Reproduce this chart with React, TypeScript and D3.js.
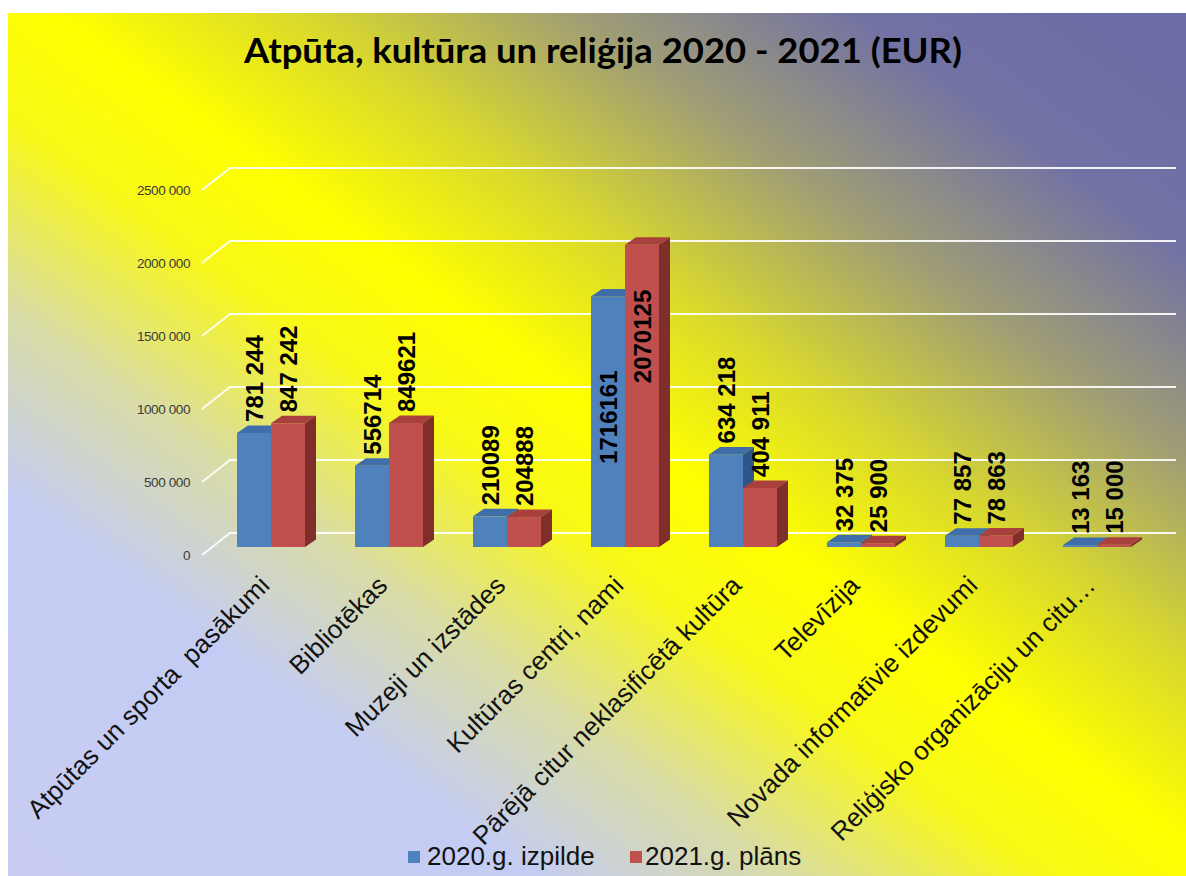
import React from "react";
import * as d3 from "d3";

const categories = [
  "Atpūtas un sporta  pasākumi",
  "Bibliotēkas",
  "Muzeji un izstādes",
  "Kultūras centri, nami",
  "Pārējā citur neklasificētā kultūra",
  "Televīzija",
  "Novada informatīvie izdevumi",
  "Reliģisko organizāciju un citu…",
];
const values2020 = [781244, 556714, 210089, 1716161, 634218, 32375, 77857, 13163];
const values2021 = [847242, 849621, 204888, 2070125, 404911, 25900, 78863, 15000];
const labels2020 = ["781 244", "556714", "210089", "1716161", "634 218", "32 375", "77 857", "13 163"];
const labels2021 = ["847 242", "849621", "204888", "2070125", "404 911", "25 900", "78 863", "15 000"];
const yTicks = [0, 500000, 1000000, 1500000, 2000000, 2500000];
const yTickLabels = ["0", "500 000", "1000 000", "1500 000", "2000 000", "2500 000"];
const seriesNames = ["2020.g. izpilde", "2021.g. plāns"];
const title = "Atpūta, kultūra un reliģija 2020 - 2021 (EUR)";

const W = 1186;
const H = 876;

const front = ["#4f81bd", "#c0504d"];
const topC = ["#3f6ea8", "#a8413e"];
const sideC = ["#2f5688", "#7f2e2c"];

export default function App() {
  const x = d3
    .scaleBand<string>()
    .domain(categories)
    .range([212, 1156])
    .paddingInner(0.4237)
    .paddingOuter(0.2119);
  const xs = d3.scaleBand<number>().domain([0, 1]).range([0, x.bandwidth()]);
  const y = d3.scaleLinear().domain([0, 2500000]).range([547, 182]);
  const dx = 11;
  const dy = -7.5;
  const series = [values2020, values2021];
  const labels = [labels2020, labels2021];
  const insideOffset = [74, 45];
  const font = "'Liberation Sans', Arial, sans-serif";

  return (
    <svg
      width={W}
      height={H}
      style={{ position: "absolute", left: 0, top: 0 }}
      xmlns="http://www.w3.org/2000/svg"
    >
      <defs>
        <linearGradient id="bg" x1="0" y1="1" x2="1" y2="0">
          <stop offset="0" stopColor="#c8ccf2" />
          <stop offset="0.22" stopColor="#c4ccf4" />
          <stop offset="0.33" stopColor="#d9dca6" />
          <stop offset="0.44" stopColor="#f8f818" />
          <stop offset="0.52" stopColor="#ffff00" />
          <stop offset="0.62" stopColor="#dada2c" />
          <stop offset="0.74" stopColor="#a09e74" />
          <stop offset="0.86" stopColor="#7272a4" />
          <stop offset="1" stopColor="#6b6ba8" />
        </linearGradient>
      </defs>
      <rect x={0} y={0} width={W} height={H} fill="#ffffff" />
      <rect x={8} y={13} width={W - 8} height={H - 13} fill="url(#bg)" />

      <text
        x={603}
        y={63}
        textAnchor="middle"
        fontFamily="Lato, 'Open Sans', sans-serif"
        fontWeight="bold"
        fontSize={34}
        textLength={718}
        lengthAdjust="spacingAndGlyphs"
        fill="#000"
      >
        {title}
      </text>

      {/* gridlines */}
      {yTicks.map((t, i) => {
        const yf = y(t) + 8;
        const yb = y(t) - 14;
        return (
          <g key={"g" + i}>
            <polyline
              points={`202,${yf} 230,${yb} 1176,${yb}`}
              fill="none"
              stroke="#ffffff"
              strokeOpacity={0.9}
              strokeWidth={2}
            />
            <text
              x={190}
              y={yf + 1}
              textAnchor="end"
              dominantBaseline="middle"
              fontFamily={font}
              fontSize={13.5}
              letterSpacing={-0.4}
              fill="#3a3a3a"
            >
              {yTickLabels[i]}
            </text>
          </g>
        );
      })}

      {/* bars */}
      {categories.map((c, ci) => (
        <g key={"c" + ci}>
          {series.map((vals, si) => {
            const v = vals[ci];
            const x0 = (x(c) as number) + (xs(si) as number);
            const w = xs.bandwidth();
            const top = y(v);
            const bot = y(0);
            return (
              <g key={"s" + si}>
                <rect x={x0} y={top} width={w} height={bot - top} fill={front[si]} />
                <polygon
                  points={`${x0},${top} ${x0 + dx},${top + dy} ${x0 + w + dx},${top + dy} ${x0 + w},${top}`}
                  fill={topC[si]}
                />
                <polygon
                  points={`${x0 + w},${top} ${x0 + w + dx},${top + dy} ${x0 + w + dx},${bot + dy} ${x0 + w},${bot}`}
                  fill={sideC[si]}
                />
              </g>
            );
          })}
        </g>
      ))}

      {/* value labels */}
      {categories.map((c, ci) =>
        series.map((vals, si) => {
          const v = vals[ci];
          const cx = (x(c) as number) + (xs(si) as number) + xs.bandwidth() / 2;
          const top = y(v);
          const inside = v > 1500000;
          const ly = inside ? top + insideOffset[si] : top - 11;
          return (
            <text
              key={"l" + ci + "-" + si}
              transform={`translate(${cx},${ly}) rotate(-90)`}
              dy="0.36em"
              textAnchor={inside ? "end" : "start"}
              fontFamily={font}
              fontWeight="bold"
              fontSize={24}
              fill="#000"
            >
              {labels[si][ci]}
            </text>
          );
        })
      )}

      {/* category labels */}
      {categories.map((c, ci) => {
        const cx = (x(c) as number) + x.bandwidth() / 2;
        return (
          <text
            key={"x" + ci}
            transform={`translate(${cx},${587}) rotate(-45)`}
            textAnchor="end"
            fontFamily={font}
            fontSize={26}
            fill="#111"
            style={{ whiteSpace: "pre" }}
          >
            {c}
          </text>
        );
      })}

      {/* legend */}
      <rect x={408} y={851} width={12} height={12} fill={front[0]} />
      <text x={427} y={865} fontFamily={font} fontSize={26} fill="#111">
        {seriesNames[0]}
      </text>
      <rect x={630} y={851} width={12} height={12} fill={front[1]} />
      <text x={645} y={865} fontFamily={font} fontSize={26} fill="#111">
        {seriesNames[1]}
      </text>
    </svg>
  );
}
